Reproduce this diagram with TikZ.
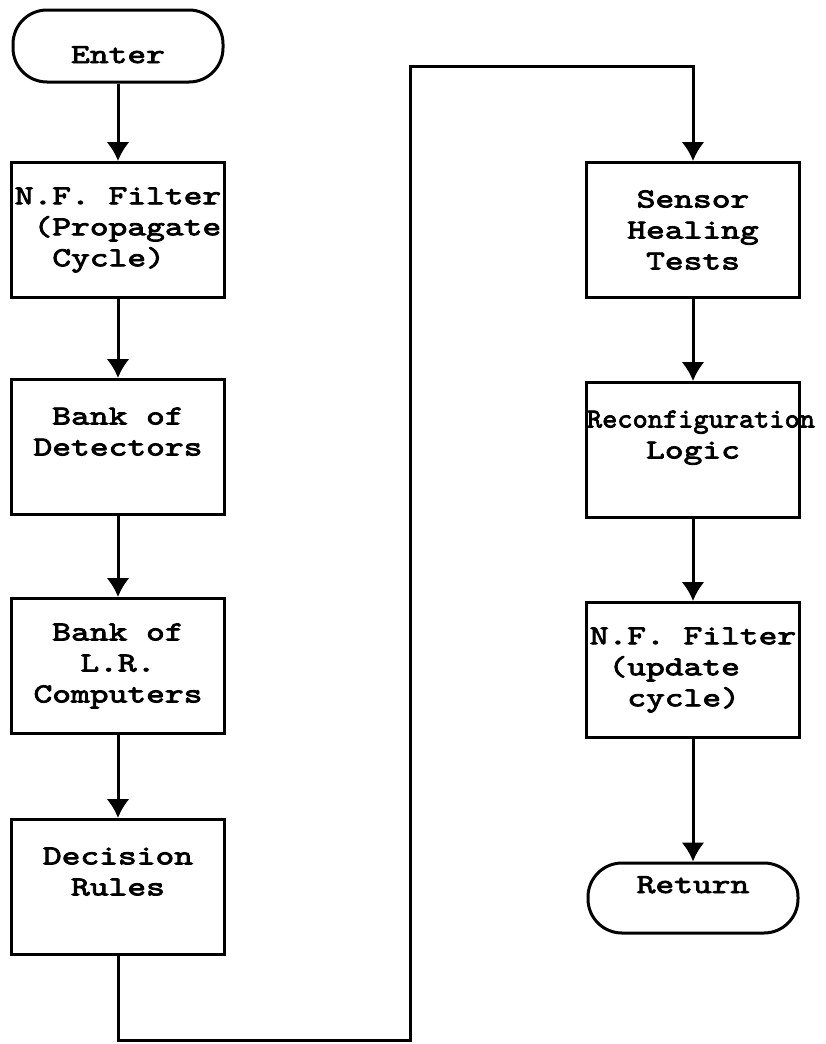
\documentclass[tikz,border=0pt]{standalone}
\usepackage{fontspec}
\usepackage{graphicx}
\setmonofont{lmmono10-regular.otf}[FakeStretch=1.3, FakeBold=3]
\usetikzlibrary{shapes,arrows,arrows.meta,positioning,calc}
\tikzset{
block/.style = {draw, fill=white, rectangle, line width=3pt, minimum height=135pt, minimum width=213pt, align=center, inner sep=0pt},
term/.style = {draw, fill=white, rectangle, rounded corners=34pt, line width=3pt, minimum height=72pt, minimum width=210pt, inner sep=0pt},
tmp/.style = {coordinate},
line/.style = {line width=3pt}
}

\begin{document}
\begin{tikzpicture}[x=1pt, y=-1pt, node distance=219pt, >={Latex[length=19pt,width=23pt]},
  font=\ttfamily\fontsize{27.5}{31}\selectfont]

    \useasboundingbox (0,0) rectangle (825,1044);

    % left column
    \node [term, text height=34pt, text depth=0pt] (enter) at (118,46) {Enter};
    \node [block, below of=enter, node distance=184pt, align=left] (nfprop) {N.F. Filter\\~(Propagate\\~~Cycle)};
    \node [block, below of=nfprop, node distance=217pt] (detect) {Bank of\\Detectors\\~};
    \node [block, below of=detect] (lrcomp) {Bank of\\L.R.\\Computers};
    \node [block, below of=lrcomp, node distance=221pt] (decide) {Decision\\Rules\\~};

    % right column
    \node [block, right of=nfprop, node distance=575pt] (heal) {Sensor\\Healing\\Tests};
    \node [block, below of=heal, node distance=220pt] (reconf) {\makebox[213pt]{\hspace*{16pt}\scalebox{0.81}[1]{Reconfiguration}}\\Logic\\~};
    \node [block, below of=reconf, node distance=220pt, align=left] (nfupd) {N.F. Filter\\~(update\\~~cycle)};
    \node [term, below of=nfupd, node distance=228pt, minimum height=70pt, text height=20pt, text depth=30pt] (ret) {Return};

    \coordinate [tmp] (lowright) at (410,1040);
    \coordinate [tmp] (topleft) at (410,66);

    \draw [line,->] (enter) -- (nfprop);
    \draw [line,->] (nfprop) -- (detect);
    \draw [line,->] (detect) -- (lrcomp);
    \draw [line,->] (lrcomp) -- (decide);
    \draw [line,->] (decide.south) -- (decide.south |- lowright) -- (lowright) -- (topleft) -| (heal.north);
    \draw [line,->] (heal) -- (reconf);
    \draw [line,->] (reconf) -- (nfupd);
    \draw [line,->] (nfupd) -- (ret);
\end{tikzpicture}
\end{document}
